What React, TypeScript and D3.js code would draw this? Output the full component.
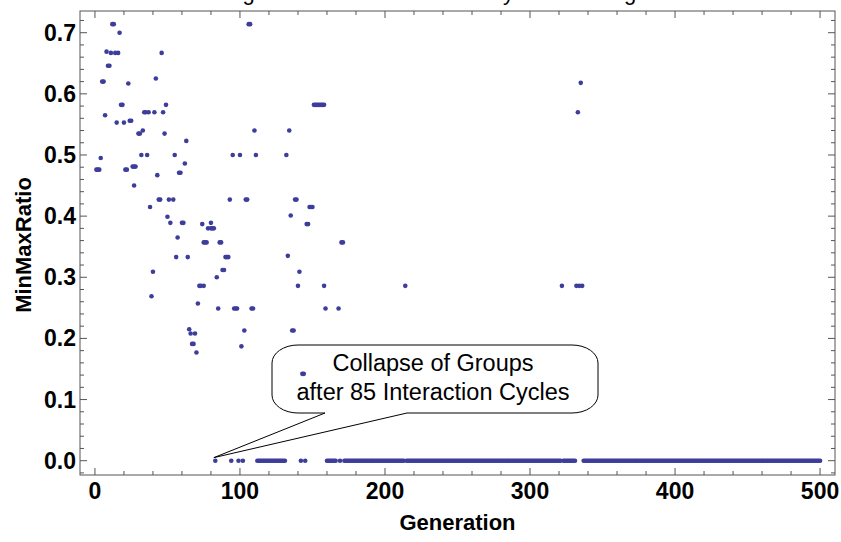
import React from 'react';
import * as d3 from 'd3';

// ---- data ----
const nonZeroGens = [
  1, 2, 3, 4, 5, 6, 7, 8, 9, 10, 11, 12, 13, 14, 15, 16, 17, 18, 19, 20,
  21, 22, 23, 24, 25, 26, 27, 28, 27, 30, 31, 32, 33, 34, 35, 36, 37, 38, 39, 40,
  41, 42, 43, 44, 45, 46, 47, 48, 49, 50, 51, 52, 54, 55, 56, 57, 58, 59, 60, 61,
  62, 63, 64, 65, 66, 67, 68, 69, 70, 71, 72, 73, 74, 75, 75, 76, 77, 78, 80, 81,
  82, 80, 84, 85, 86, 87, 88, 89, 90, 91, 92, 93, 95, 96, 97, 98, 100, 101, 103, 104,
  105, 106, 107, 108, 109, 110, 111, 132, 133, 134, 135, 136, 137, 138, 139, 140, 141, 143, 144, 146,
  147, 148, 149, 150, 151, 152, 153, 154, 155, 156, 157, 158, 158, 159, 168, 170, 171, 214, 322, 332,
  333, 334, 335, 336,
];
const nonZeroValues = [
  0.476, 0.476, 0.476, 0.495, 0.62, 0.62, 0.565, 0.669, 0.646, 0.646, 0.667, 0.714, 0.714, 0.667, 0.553, 0.667, 0.7, 0.582, 0.582, 0.553,
  0.476, 0.476, 0.617, 0.556, 0.556, 0.481, 0.481, 0.481, 0.45, 0.535, 0.535, 0.5, 0.54, 0.57, 0.57, 0.5, 0.57, 0.415, 0.269, 0.309,
  0.57, 0.625, 0.467, 0.427, 0.427, 0.667, 0.57, 0.535, 0.582, 0.399, 0.427, 0.389, 0.427, 0.5, 0.333, 0.365, 0.471, 0.471, 0.389, 0.389,
  0.486, 0.523, 0.333, 0.215, 0.208, 0.191, 0.191, 0.208, 0.177, 0.257, 0.286, 0.286, 0.387, 0.286, 0.357, 0.357, 0.357, 0.38, 0.38, 0.38,
  0.38, 0.389, 0.3, 0.249, 0.357, 0.357, 0.312, 0.312, 0.333, 0.333, 0.333, 0.427, 0.5, 0.249, 0.249, 0.249, 0.5, 0.187, 0.213, 0.427,
  0.427, 0.714, 0.714, 0.249, 0.249, 0.54, 0.5, 0.5, 0.335, 0.54, 0.401, 0.213, 0.213, 0.427, 0.427, 0.286, 0.309, 0.142, 0.142, 0.387,
  0.387, 0.415, 0.415, 0.415, 0.582, 0.582, 0.582, 0.582, 0.582, 0.582, 0.582, 0.582, 0.286, 0.249, 0.249, 0.357, 0.357, 0.286, 0.286, 0.286,
  0.57, 0.286, 0.618, 0.286,
];
// runs of generations whose ratio is 0 (inclusive start, end)
const zeroRunStarts = [83, 94, 99, 102, 112, 142, 145, 160, 169, 172, 215, 323, 337];
const zeroRunEnds = [83, 94, 99, 102, 131, 142, 145, 166, 169, 213, 321, 331, 500];

const xMajorTicks = [0, 100, 200, 300, 400, 500];
const yMajorTicks = [0, 0.1, 0.2, 0.3, 0.4, 0.5, 0.6, 0.7];
const xMinorStep = 20;
const yMinorStep = 0.02;

const titleText = 'MinMaxRatio during the Societal Simulation by Round Stage';
const xLabel = 'Generation';
const yLabel = 'MinMaxRatio';
const calloutLines = ['Collapse of Groups', 'after 85 Interaction Cycles'];
const calloutTarget = { gen: 82, value: 0.005 };

export default function App() {
  const W = 841;
  const H = 542;
  const left = 80, right = 835, top = 11, bottom = 475;
  const x = d3.scaleLinear().domain([-10.3, 510.3]).range([left, right]);
  const y = d3.scaleLinear().domain([-0.0234, 0.7355]).range([bottom, top]);

  const points: { g: number; v: number }[] = [];
  nonZeroGens.forEach((g, i) => points.push({ g, v: nonZeroValues[i] }));
  zeroRunStarts.forEach((s, i) => {
    d3.range(s, zeroRunEnds[i] + 1).forEach((g) => points.push({ g, v: 0 }));
  });

  const xMinor = d3.range(0, 501, xMinorStep).filter((t) => t % 100 !== 0);
  const yMinor = d3.range(-0.02, 0.7301, yMinorStep).filter(
    (t) => Math.abs(Math.round(t * 10) - t * 10) > 1e-6
  );

  const frameColor = '#555';
  const ptColor = '#3d3d9b';
  const majorLen = 7, minorLen = 4;
  const font = 'Liberation Sans, Arial, Helvetica, sans-serif';

  // callout bubble
  const bx0 = 272, bx1 = 598, by0 = 345, by1 = 413, rx = 26, ry = 18;
  const p0 = 325, p1 = 407;
  const tipX = x(calloutTarget.gen), tipY = y(calloutTarget.value);
  const bubble = [
    `M${p0},${by1}`,
    `L${tipX},${tipY}`,
    `L${p1},${by1}`,
    `L${bx1 - rx},${by1}`,
    `A${rx},${ry} 0 0 0 ${bx1},${by1 - ry}`,
    `L${bx1},${by0 + ry}`,
    `A${rx},${ry} 0 0 0 ${bx1 - rx},${by0}`,
    `L${bx0 + rx},${by0}`,
    `A${rx},${ry} 0 0 0 ${bx0},${by0 + ry}`,
    `L${bx0},${by1 - ry}`,
    `A${rx},${ry} 0 0 0 ${bx0 + rx},${by1}`,
    'Z',
  ].join(' ');
  const cx = (bx0 + bx1) / 2 - 2;

  return (
    <svg
      width={W}
      height={H}
      style={{ position: 'absolute', left: 0, top: 0, background: '#fff' }}
      fontFamily={font}
    >
      <rect x={0} y={0} width={W} height={H} fill="#fff" />
      <text x={59} y={-0.3} fontSize={22} fill="#000">{titleText}</text>

      {/* frame */}
      <rect x={left} y={top} width={right - left} height={bottom - top} fill="none" stroke={frameColor} strokeWidth={1} />

      {/* x ticks */}
      {xMajorTicks.map((t) => (
        <g key={'xm' + t}>
          <line x1={x(t)} x2={x(t)} y1={bottom} y2={bottom - majorLen} stroke={frameColor} />
          <line x1={x(t)} x2={x(t)} y1={top} y2={top + majorLen} stroke={frameColor} />
          <text x={x(t)} y={499} textAnchor="middle" fontSize={23} fontWeight="bold">{t}</text>
        </g>
      ))}
      {xMinor.map((t) => (
        <g key={'xn' + t}>
          <line x1={x(t)} x2={x(t)} y1={bottom} y2={bottom - minorLen} stroke={frameColor} />
          <line x1={x(t)} x2={x(t)} y1={top} y2={top + minorLen} stroke={frameColor} />
        </g>
      ))}

      {/* y ticks */}
      {yMajorTicks.map((t) => (
        <g key={'ym' + t}>
          <line x1={left} x2={left + majorLen} y1={y(t)} y2={y(t)} stroke={frameColor} />
          <line x1={right} x2={right - majorLen} y1={y(t)} y2={y(t)} stroke={frameColor} />
          <text x={76} y={y(t) + 8} textAnchor="end" fontSize={23} fontWeight="bold">{t.toFixed(1)}</text>
        </g>
      ))}
      {yMinor.map((t) => (
        <g key={'yn' + t}>
          <line x1={left} x2={left + minorLen} y1={y(t)} y2={y(t)} stroke={frameColor} />
          <line x1={right} x2={right - minorLen} y1={y(t)} y2={y(t)} stroke={frameColor} />
        </g>
      ))}

      {/* axis labels */}
      <text x={(left + right) / 2} y={530} textAnchor="middle" fontSize={22} fontWeight="bold">{xLabel}</text>
      <text transform={`translate(31,${(top + bottom) / 2 + 2}) rotate(-90)`} textAnchor="middle" fontSize={22} fontWeight="bold">{yLabel}</text>

      {/* callout */}
      <path d={bubble} fill="none" stroke="#000" strokeWidth={1} />
      <text x={cx} y={371} textAnchor="middle" fontSize={23.5}>{calloutLines[0]}</text>
      <text x={cx} y={400} textAnchor="middle" fontSize={23.5}>{calloutLines[1]}</text>

      {/* points */}
      {points.map((p, i) => (
        <circle key={i} cx={x(p.g)} cy={y(p.v)} r={2.3} fill={ptColor} />
      ))}
    </svg>
  );
}
